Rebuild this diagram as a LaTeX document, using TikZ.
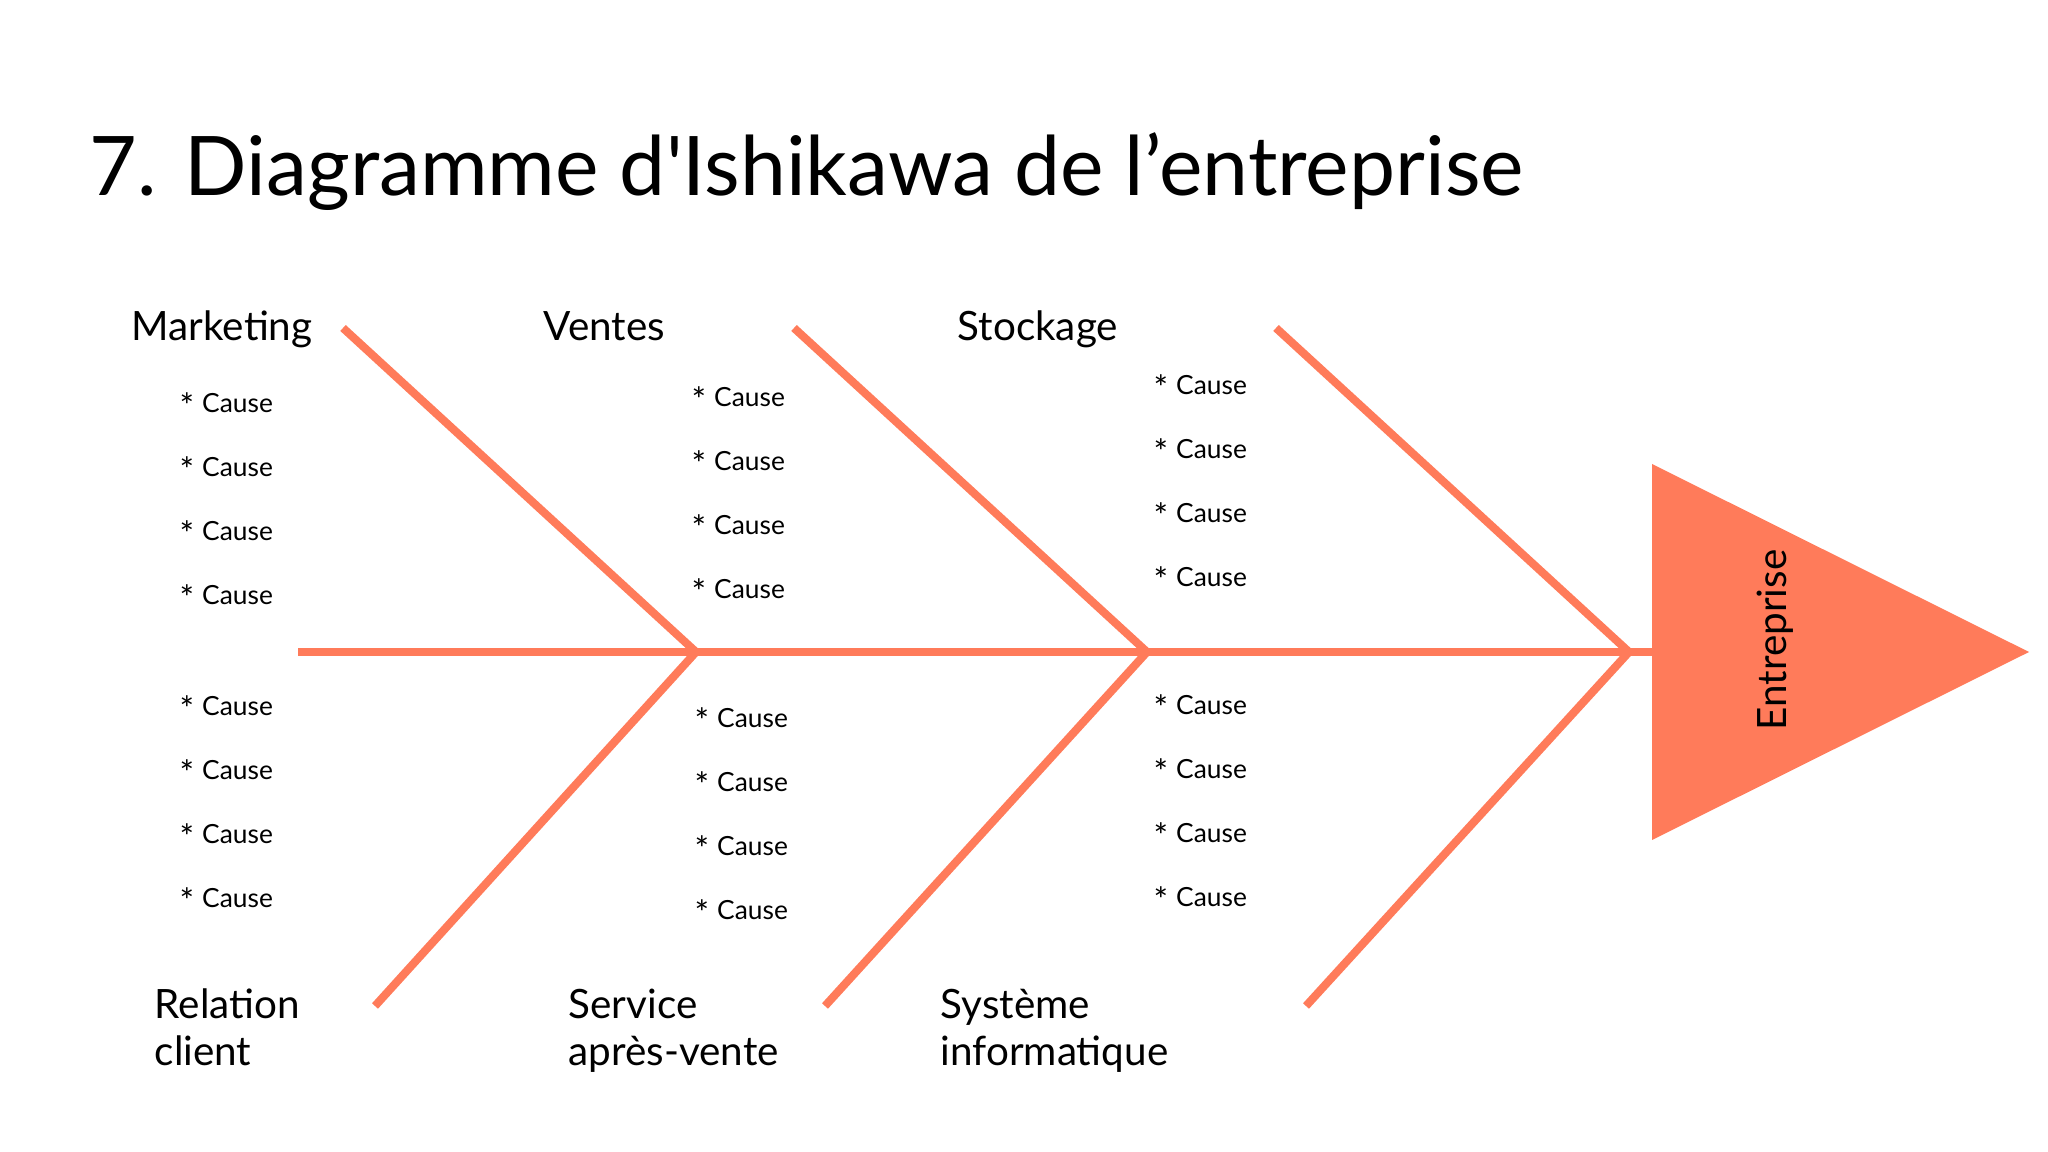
\documentclass[tikz,border=0pt]{standalone}
\usepackage{fontspec}
\setmainfont{Lato}
\newfontfamily\titlefont{Lato}
\definecolor{coral}{RGB}{255,123,90}
\newcommand{\causetext}{\raisebox{-0.45ex}{\scalebox{1.3}{*}}\hspace{0.3em}Cause}
\begin{document}
\begin{tikzpicture}[x=0.1mm,y=-0.1mm,
  bone/.style={draw=coral,line width=2.3pt},
  cat/.style={anchor=base west,inner sep=0pt,font=\fontsize{11.5pt}{13.4pt}\selectfont,align=left},
  cause/.style={anchor=west,inner sep=0pt,font=\fontsize{7.5pt}{9pt}\selectfont}]
\useasboundingbox (0,0) rectangle (2048,1152);
% title
\node[anchor=base west,inner sep=0pt,font=\titlefont\fontsize{23.4pt}{28pt}\selectfont] (title) at (89,196) {7. Diagramme d'Ishikawa de l’entreprise};
% head
\path[fill=coral] (1652,464) -- (2029,652) -- (1652,840) -- cycle;
\coordinate (head) at (1652,652);
\node[rotate=90,inner sep=0pt,font=\fontsize{11.5pt}{13.4pt}\selectfont] (ent) at (1775,640) {Entreprise};
% spine
\coordinate (tail) at (298,652);
\coordinate (j1) at (696,652);
\coordinate (j2) at (1147,652);
\coordinate (j3) at (1629,652);
\draw[bone] (tail) -- (head);
% bones
\coordinate (t1) at (343,328);
\coordinate (t2) at (794,328);
\coordinate (t3) at (1276,328);
\coordinate (b1) at (375,1006);
\coordinate (b2) at (825,1006);
\coordinate (b3) at (1306,1006);
\draw[bone] (t1) -- (j1);
\draw[bone] (t2) -- (j2);
\draw[bone] (t3) -- (j3);
\draw[bone] (b1) -- (j1);
\draw[bone] (b2) -- (j2);
\draw[bone] (b3) -- (j3);
% categories
\node[cat] (mk) at (131,341) {Marketing};
\node[cat] (ve) at (543,341) {Ventes};
\node[cat] (st) at (957,341) {Stockage};
\node[cat] (rc) at (154,1066) {Relation\\client};
\node[cat] (sv) at (568,1066) {Service\\après-vente};
\node[cat] (si) at (940,1066) {Système\\informatique};
% causes
\foreach \y [count=\i] in {406,470,534,598} \node[cause] (cm\i) at (179,\y) {\causetext};
\foreach \y [count=\i] in {709,773,837,901} \node[cause] (cr\i) at (179,\y) {\causetext};
\foreach \y [count=\i] in {400,464,528,592} \node[cause] (cv\i) at (691,\y) {\causetext};
\foreach \y [count=\i] in {721,785,849,913} \node[cause] (cs\i) at (694,\y) {\causetext};
\foreach \y [count=\i] in {388,452,516,580} \node[cause] (ct\i) at (1153,\y) {\causetext};
\foreach \y [count=\i] in {708,772,836,900} \node[cause] (ci\i) at (1153,\y) {\causetext};
\end{tikzpicture}
\end{document}
